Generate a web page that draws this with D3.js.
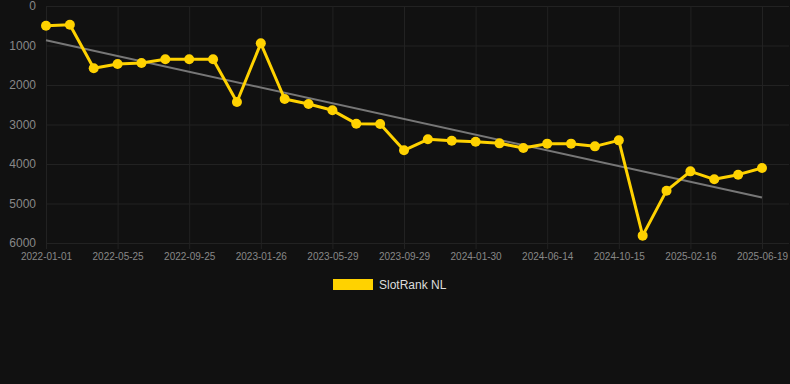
<!DOCTYPE html>
<html>
<head>
<meta charset="utf-8">
<script src="https://cdn.jsdelivr.net/npm/d3@7"></script>
<style>
    html, body { margin: 0; padding: 0; background: #111111; }
    svg { display: block; font-family: "Liberation Sans", Arial, sans-serif; }
</style>
</head>
<body>
<div class="chart-container"></div>
<script>
// dates of each sample (only every 3rd one is labelled on the axis)
const dates = [
    "2022-01-01", "2022-02-18", "2022-04-07", "2022-05-25", "2022-07-05", "2022-08-15",
    "2022-09-25", "2022-11-05", "2022-12-16", "2023-01-26", "2023-03-08", "2023-04-18",
    "2023-05-29", "2023-07-09", "2023-08-19", "2023-09-29", "2023-11-09", "2023-12-20",
    "2024-01-30", "2024-03-15", "2024-04-30", "2024-06-14", "2024-07-25", "2024-09-04",
    "2024-10-15", "2024-11-25", "2025-01-05", "2025-02-16", "2025-03-28", "2025-05-09",
    "2025-06-19"
];
// rank values
const ranks = [
    498, 473, 1578, 1468, 1443, 1350,
    1350, 1350, 2430, 945, 2354, 2481,
    2641, 2979, 2987, 3654, 3375, 3410,
    3435, 3477, 3593, 3485, 3485, 3553,
    3401, 5814, 4675, 4186, 4388, 4270,
    4101
];
const yTicks = [0, 1000, 2000, 3000, 4000, 5000, 6000];
const seriesName = "SlotRank NL";

const width = 790;
const height = 384;
const margin = { top: 6, right: 1, bottom: 141, left: 46 };

const svg = d3.select(".chart-container")
    .append("svg")
    .attr("width", width)
    .attr("height", height);

svg.append("rect").attr("width", width).attr("height", height).attr("fill", "#111111");

const xScale = d3.scalePoint()
    .domain(dates)
    .range([margin.left, 762]);

const yScale = d3.scaleLinear()
    .domain([0, 6000])
    .range([margin.top, height - margin.bottom]);

const tickDates = dates.filter((d, i) => i % 3 === 0);

// grid
svg.append("g")
    .selectAll("line")
    .data(yTicks)
    .join("line")
    .attr("x1", margin.left)
    .attr("x2", width - margin.right)
    .attr("y1", d => yScale(d) + 0.5)
    .attr("y2", d => yScale(d) + 0.5)
    .attr("stroke", "#222222")
    .attr("stroke-width", 1);

svg.append("g")
    .selectAll("line")
    .data(tickDates)
    .join("line")
    .attr("x1", d => xScale(d) + 0.5)
    .attr("x2", d => xScale(d) + 0.5)
    .attr("y1", margin.top)
    .attr("y2", yScale(6000) + 6)
    .attr("stroke", "#222222")
    .attr("stroke-width", 1);

// axes
const yAxis = d3.axisLeft(yScale)
    .tickValues(yTicks)
    .tickFormat(d3.format("d"))
    .tickSize(0)
    .tickPadding(10);
svg.append("g")
    .attr("transform", `translate(${margin.left},0)`)
    .call(yAxis)
    .call(g => g.select(".domain").remove())
    .selectAll("text")
    .attr("fill", "#888888")
    .style("font-size", "12px");

const xAxis = d3.axisBottom(xScale).tickValues(tickDates).tickSize(0).tickPadding(10);
svg.append("g")
    .attr("transform", `translate(0,${yScale(6000)})`)
    .call(xAxis)
    .call(g => g.select(".domain").remove())
    .selectAll("text")
    .attr("fill", "#888888")
    .style("font-size", "10px");

// trend line (least squares)
const idx = d3.range(ranks.length);
const mx = d3.mean(idx);
const my = d3.mean(ranks);
const slope = d3.sum(idx, i => (i - mx) * (ranks[i] - my)) / d3.sum(idx, i => (i - mx) ** 2);
const intercept = my - slope * mx;
const last = ranks.length - 1;

svg.append("line")
    .attr("x1", xScale(dates[0]))
    .attr("y1", yScale(intercept))
    .attr("x2", xScale(dates[last]))
    .attr("y2", yScale(intercept + slope * last))
    .attr("stroke", "#777777")
    .attr("stroke-width", 2);

// series
const line = d3.line()
    .x((d, i) => xScale(dates[i]))
    .y(d => yScale(d));

svg.append("path")
    .datum(ranks)
    .attr("d", line)
    .attr("fill", "none")
    .attr("stroke", "#FFD200")
    .attr("stroke-width", 3)
    .attr("stroke-linejoin", "round");

svg.append("g")
    .selectAll("circle")
    .data(ranks)
    .join("circle")
    .attr("cx", (d, i) => xScale(dates[i]))
    .attr("cy", d => yScale(d))
    .attr("r", 5)
    .attr("fill", "#FFD200");

// legend
const legend = svg.append("g").attr("transform", "translate(333,279)");
legend.append("rect")
    .attr("width", 40)
    .attr("height", 11)
    .attr("fill", "#FFD200");
legend.append("text")
    .attr("x", 46)
    .attr("y", 10)
    .attr("fill", "#dddddd")
    .style("font-size", "12px")
    .text(seriesName);
</script>
</body>
</html>
